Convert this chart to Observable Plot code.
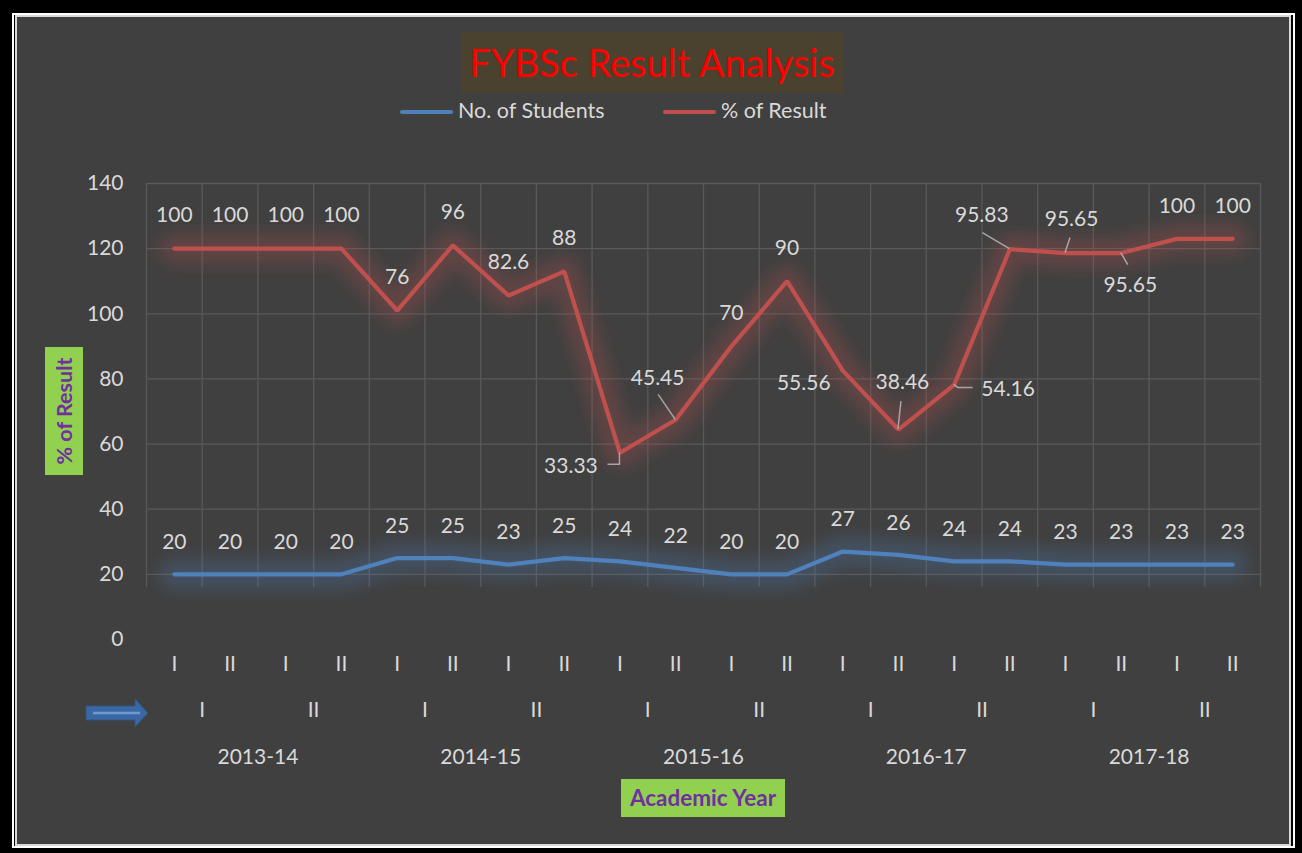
<!DOCTYPE html>
<html><head><meta charset="utf-8">
<script src="https://cdn.jsdelivr.net/npm/d3@7"></script>
<script src="https://cdn.jsdelivr.net/npm/@observablehq/plot@0.6"></script>
<style>
html,body{margin:0;padding:0;background:#000;}
#wrap{position:relative;width:1302px;height:853px;background:#000;overflow:hidden;font-family:Lato,"Open Sans",sans-serif;}
#outer{position:absolute;left:12px;top:13px;width:1283px;height:835px;border:2px solid #fff;box-sizing:border-box;}
#inner{position:absolute;left:15px;top:15px;width:1276px;height:831px;border:2px solid #d9d9d9;box-sizing:border-box;background:#404040;}
#chart{position:absolute;left:0;top:0;}
#chart svg{background:transparent !important;}
#title{position:absolute;left:461px;top:32px;width:382px;height:61px;background:#4a422e;color:#ff0000;font-size:38px;line-height:61px;text-align:center;white-space:nowrap;}
.leg{position:absolute;top:98px;height:24px;color:#d9d9d9;font-size:21.5px;line-height:24px;white-space:nowrap;}
.leg span.sw{display:inline-block;width:53px;height:4px;border-radius:2px;vertical-align:middle;margin-right:5px;position:relative;top:-1px;}
#ytitle{position:absolute;left:45px;top:347px;width:38px;height:128px;background:#92d050;}
#ytitle div{position:absolute;left:19px;top:64px;transform:translate(-50%,-50%) rotate(-90deg);color:#7030a0;font-weight:bold;font-size:21.5px;white-space:nowrap;}
#xtitle{position:absolute;left:621px;top:779px;width:164px;height:38px;background:#92d050;color:#7030a0;font-weight:bold;font-size:22.5px;line-height:38px;text-align:center;white-space:nowrap;}
#arrow{position:absolute;left:84px;top:697px;}
</style>
</head><body>
<div id="wrap">
  <div id="outer"></div>
  <div id="inner"></div>
  <div id="chart"></div>
  <div id="title"></div>
  <div class="leg" id="leg1" style="left:400px"></div>
  <div class="leg" id="leg2" style="left:663px"></div>
  <div id="ytitle"><div></div></div>
  <div id="xtitle"></div>
  <svg id="arrow" width="68" height="34">
    <polygon points="2,9 51,9 51,2 64,16 51,30 51,23 2,23" fill="#3b68a3" stroke="#2f5485" stroke-width="1"/>
    <line x1="9" y1="16" x2="56" y2="16" stroke="#6f9ad0" stroke-width="2.5"/>
  </svg>
</div>
<script>
// ---- data ----
const titleText = "FYBSc Result Analysis";
const seriesNames = ["No. of Students", "% of Result"];
const semesters = ["I","II","I","II","I","II","I","II","I","II","I","II","I","II","I","II","I","II","I","II"];
const halves = ["I","II","I","II","I","II","I","II","I","II"];
const years = ["2013-14","2014-15","2015-16","2016-17","2017-18"];
const students = [20,20,20,20,25,25,23,25,24,22,20,20,27,26,24,24,23,23,23,23];
const results = [100,100,100,100,76,96,82.6,88,33.33,45.45,70,90,55.56,38.46,54.16,95.83,95.65,95.65,100,100];
const yTicks = [0,20,40,60,80,100,120,140];
const yTitle = "% of Result";
const xTitle = "Academic Year";

// ---- label placement (pixel nudges, layout only) ----
const defaultNudge = [0,-33];
const studentNudge = [0,-32];
const resultNudges = {
  8:  {d:[-49,13], leader:[[0,0],[0,12],[-12,12]]},
  9:  {d:[-18,-42], leader:[[0,0],[-17,-25]]},
  12: {d:[-39,13], leader:null},
  13: {d:[4,-47], leader:[[0,0],[3,-28]]},
  14: {d:[54,4], leader:[[0,0],[4,3],[19,3]]},
  15: {d:[-28,-34], leader:[[0,0],[-27,-16]]},
  16: {d:[6,-34], leader:[[0,0],[5,-15]]},
  17: {d:[9,32], leader:[[0,0],[7,12]]}
};

const colors = ["#4f81bd", "#c0504d"];
const textColor = "#d9d9d9";
const gridColor = "#595959";
const fs = 21;

// ---- table ----
const rows = [
  ...students.map((v,i)=>({i, series: seriesNames[0], value: v})),
  ...results.map((v,i)=>({i, series: seriesNames[1], value: v}))
];
const stack = (o={}) => Plot.stackY2({x:"i", y:"value", z:"series", ...o});
const fmt = v => String(v);
const boundaries = d3.range(semesters.length + 1).map(i => i - 0.5);

const marks = [
  Plot.ruleY(yTicks.filter(v => v > 0), {stroke: gridColor, strokeWidth: 1.3}),
  Plot.ruleX(boundaries, {y1: 16, y2: 140, stroke: gridColor, strokeWidth: 1.3}),
  Plot.lineY(rows, stack({stroke: "series", strokeWidth: 30, strokeOpacity: 0.26, strokeLinecap: "round"})),
  Plot.lineY(rows, stack({stroke: "series", strokeWidth: 4.2, strokeLinecap: "round", strokeLinejoin: "miter"})),
  Plot.text(rows, Plot.filter(d => d.series === seriesNames[0], stack({text: d => fmt(d.value), dx: studentNudge[0], dy: studentNudge[1], fill: textColor, fontSize: fs}))),
  Plot.text(rows, Plot.filter(d => d.series === seriesNames[1] && !(d.i in resultNudges), stack({text: d => fmt(d.value), dx: defaultNudge[0], dy: defaultNudge[1], fill: textColor, fontSize: fs}))),
  ...Object.entries(resultNudges).map(([k, n]) =>
    Plot.text(rows, Plot.filter(d => d.series === seriesNames[1] && d.i === +k, stack({text: d => fmt(d.value), dx: n.d[0], dy: n.d[1], fill: textColor, fontSize: fs})))),
  Plot.text(semesters, {x: (d,i) => i, text: d => d, frameAnchor: "bottom", dy: 31, fill: textColor, fontSize: fs}),
  Plot.text(halves, {x: (d,i) => 2*i + 0.5, text: d => d, frameAnchor: "bottom", dy: 77, fill: textColor, fontSize: fs}),
  Plot.text(years, {x: (d,i) => 4*i + 1.5, text: d => d, frameAnchor: "bottom", dy: 124, fill: textColor, fontSize: fs})
];

const chart = Plot.plot({
  width: 1302, height: 853,
  marginLeft: 146, marginRight: 42, marginTop: 183, marginBottom: 214,
  style: {background: "transparent", color: textColor, fontFamily: "Lato, 'Open Sans', sans-serif", fontSize: "21px"},
  x: {type: "linear", domain: [-0.5, semesters.length - 0.5], axis: null},
  y: {domain: [0, 140], ticks: yTicks, tickSize: 0, tickPadding: 23, label: null, tickFormat: d => String(d)},
  color: {domain: seriesNames, range: colors},
  marks
});
document.getElementById("chart").appendChild(chart);

// soft glow behind the lines (SVG filter on the first, wide line mark)
const svg = d3.select(chart);
const defs = svg.insert("defs", ":first-child");
defs.append("filter").attr("id", "glowBlur")
  .attr("filterUnits", "userSpaceOnUse")
  .attr("x", 0).attr("y", 0).attr("width", 1302).attr("height", 853)
  .append("feGaussianBlur").attr("stdDeviation", 8);
svg.selectAll('g[aria-label="line"]').filter((d, i) => i === 0).attr("filter", "url(#glowBlur)");

// leader lines, positioned through the plot's own scales
const sx = chart.scale("x"), sy = chart.scale("y");
const leaderG = svg.append("g").attr("fill", "none").attr("stroke", "#a6a6a6").attr("stroke-width", 1.5);
Object.entries(resultNudges).forEach(([k, n]) => {
  if (!n.leader) return;
  const i = +k;
  const px = sx.apply(i), py = sy.apply(students[i] + results[i]);
  leaderG.append("path").attr("d", d3.line()(n.leader.map(([dx, dy]) => [px + dx, py + dy])));
});

// html texts
document.getElementById("title").textContent = titleText;
document.getElementById("leg1").innerHTML = `<span class="sw" style="background:${colors[0]}"></span>${seriesNames[0]}`;
document.getElementById("leg2").innerHTML = `<span class="sw" style="background:${colors[1]}"></span>${seriesNames[1]}`;
document.querySelector("#ytitle div").textContent = yTitle;
document.getElementById("xtitle").textContent = xTitle;
</script>
</body></html>
